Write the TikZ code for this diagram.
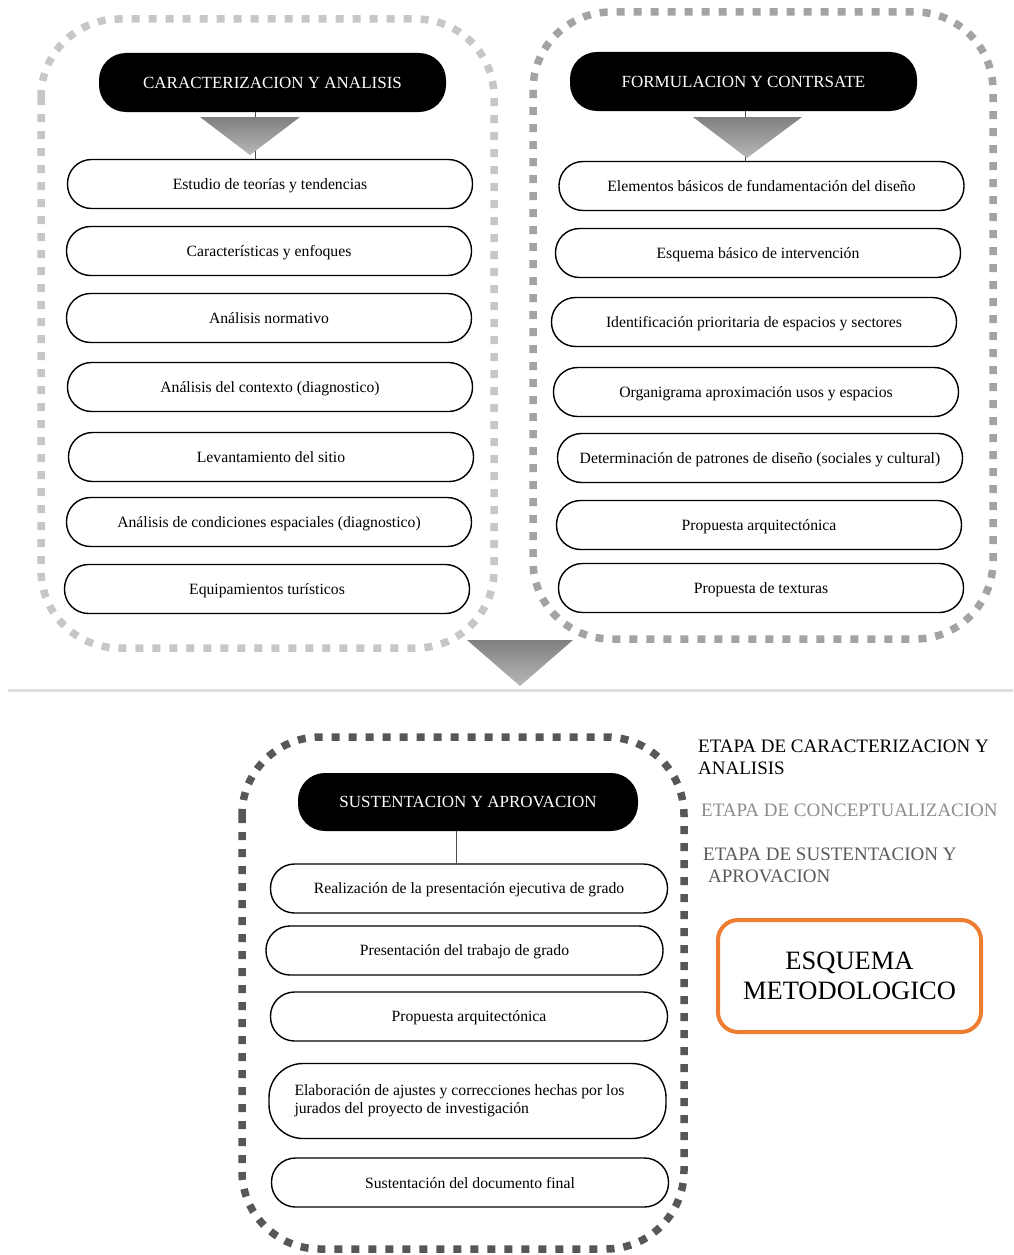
\documentclass[tikz,border=0pt]{standalone}
\usepackage{fontspec}
\setmainfont{Liberation Serif}
\begin{document}
\begin{tikzpicture}[x=1pt,y=-1pt,
  itembox/.style={draw=black,line width=1.4pt,fill=white,rounded corners=24pt,
    minimum width=405pt,minimum height=49pt,inner sep=0pt,text depth=0pt,
    font=\fontsize{15.7}{18}\selectfont,align=center},
  headbox/.style={fill=black,rounded corners=27pt,inner sep=0pt,
    minimum width=347pt,minimum height=59pt,text=white,
    font=\fontsize{17}{20}\selectfont},
  frameA/.style={line width=7.5pt,dash pattern=on 8pt off 9pt,rounded corners=78pt},
  link/.style={draw=black!70,line width=0.8pt},
  arrowtri/.style={top color=black!50,bottom color=black!28,draw=none},
  legend/.style={anchor=base west,inner sep=0pt,align=left,
    font=\fontsize{19}{22}\selectfont}
]
\useasboundingbox (0,0) rectangle (1013,1255);
\fill[white] (0,0) rectangle (1013,1255);

% containers
\draw[frameA,draw=black!22] (41,19) rectangle (494,648);
\draw[frameA,draw=black!36] (533,12) rectangle (993,639);
\draw[frameA,draw=black!66] (242,737) rectangle (684,1249);

% separator
\draw[draw=black!12,line width=3pt] (8,690) -- (1013,690);

% headers
\node[headbox] (hl) at (272.5,82.5) {CARACTERIZACION Y ANALISIS};
\node[headbox] (hr) at (743.5,81.5) {FORMULACION Y CONTRSATE};
\node[headbox,minimum width=340pt,minimum height=58pt] (hb) at (468,802) {SUSTENTACION Y APROVACION};

% left column
\node[itembox] (l1) at (270,184) {Estudio de teorías y tendencias};
\node[itembox] (l2) at (269,251) {Características y enfoques};
\node[itembox] (l3) at (269,318) {Análisis normativo};
\node[itembox] (l4) at (270,387) {Análisis del contexto (diagnostico)};
\node[itembox] (l5) at (271,457) {Levantamiento del sitio};
\node[itembox] (l6) at (269,522) {Análisis de condiciones espaciales (diagnostico)};
\node[itembox] (l7) at (267,589) {Equipamientos turísticos};

% right column
\node[itembox] (r1) at (761.5,186) {Elementos básicos de fundamentación del diseño};
\node[itembox] (r2) at (758,253) {Esquema básico de intervención};
\node[itembox] (r3) at (754,322) {Identificación prioritaria de espacios y sectores};
\node[itembox] (r4) at (756,392) {Organigrama aproximación usos y espacios};
\node[itembox] (r5) at (760,458) {Determinación de patrones de diseño (sociales y cultural)};
\node[itembox] (r6) at (759,525) {Propuesta arquitectónica};
\node[itembox] (r7) at (761,588) {Propuesta de texturas};

% bottom column
\node[itembox,minimum width=397pt] (b1) at (469,888.5) {Realización de la presentación ejecutiva de grado};
\node[itembox,minimum width=397pt] (b2) at (464.5,950.5) {Presentación del trabajo de grado};
\node[itembox,minimum width=397pt] (b3) at (469,1016.5) {Propuesta arquitectónica};
\node[itembox,text depth={},minimum width=397pt,minimum height=75pt,rounded corners=34pt,text width=346pt,align=flush left] (b4) at (467.5,1101)
  {Elaboración de ajustes y correcciones hechas por los\\jurados del proyecto de investigación};
\node[itembox,minimum width=397pt] (b5) at (470,1182.5) {Sustentación del documento final};

% connectors
\coordinate (xl) at (255,0);
\coordinate (xr) at (745,0);
\coordinate (xb) at (456,0);
\draw[link] (hl.south -| xl) -- (l1.north -| xl);
\draw[link] (hr.south -| xr) -- (r1.north -| xr);
\draw[link] (hb.south -| xb) -- (b1.north -| xb);

% arrow triangles
\shade[arrowtri] (200,117) -- (300,117) -- (250,155) -- cycle;
\shade[arrowtri] (693,117) -- (802,117) -- (747,158) -- cycle;
\shade[arrowtri] (467,640) -- (573,640) -- (520,686) -- cycle;

% legend
\node[legend,text=black] (e1) at (698,774) {ETAPA DE CARACTERIZACION Y\\ANALISIS};
\node[legend,text=black!45] (e2) at (701,816) {ETAPA DE CONCEPTUALIZACION};
\node[legend,text=black!65] (e3) at (703,882) {ETAPA DE SUSTENTACION Y\\\hspace*{5pt}APROVACION};

\node[draw={rgb,255:red,237;green,125;blue,49},line width=4pt,rounded corners=20pt,
  minimum width=263pt,minimum height=112pt,align=center,inner sep=0pt,
  font=\fontsize{26.5}{30}\selectfont] (es) at (849.5,976) {ESQUEMA\\METODOLOGICO};
\end{tikzpicture}
\end{document}
